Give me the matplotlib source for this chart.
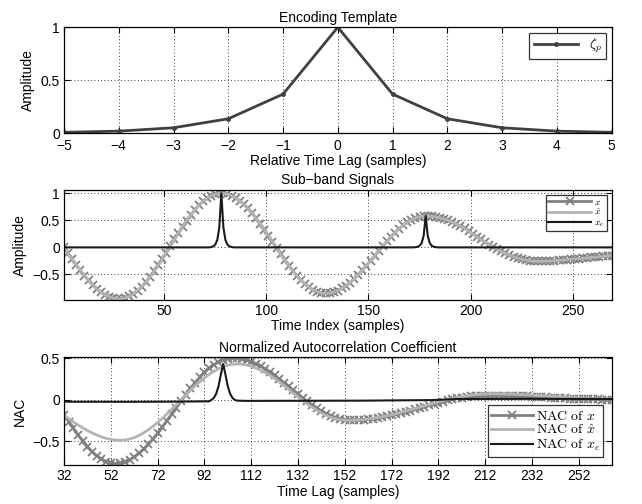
#Sub-band signal / encoding template / NAC figure, rebuilt in matplotlib
import numpy as np
import matplotlib.pyplot as plt

plt.rcParams['font.family'] = ['Liberation Sans', 'DejaVu Sans']
plt.rcParams['mathtext.fontset'] = 'cm'
plt.rcParams['axes.unicode_minus'] = True

#  Encoding template zeta_p
template_lag = [-5, -4, -3, -2, -1, 0, 1, 2, 3, 4, 5]
template_val = [0.007, 0.018, 0.05, 0.135, 0.368, 1.0, 0.368, 0.135, 0.05, 0.018, 0.007]

#  Sub-band signal x, read every 2 samples from t=1 to t=269
sig_t = np.arange(1, 270, 2)
sig_x = [0.000, -0.110, -0.219, -0.325, -0.426, -0.522, -0.611, -0.691, -0.762, -0.823,
         -0.872, -0.910, -0.936, -0.948, -0.948, -0.933, -0.902, -0.857, -0.798, -0.726,
         -0.642, -0.548, -0.445, -0.334, -0.217, -0.097, 0.025, 0.147, 0.267, 0.384,
         0.495, 0.598, 0.692, 0.776, 0.848, 0.907, 0.952, 0.983, 0.998, 0.998,
         0.984, 0.956, 0.915, 0.861, 0.796, 0.719, 0.632, 0.538, 0.436, 0.328,
         0.217, 0.103, -0.010, -0.123, -0.232, -0.337, -0.436, -0.527, -0.609, -0.680,
         -0.740, -0.788, -0.822, -0.843, -0.850, -0.844, -0.827, -0.798, -0.758, -0.708,
         -0.649, -0.581, -0.506, -0.424, -0.338, -0.249, -0.158, -0.066, 0.024, 0.112,
         0.196, 0.274, 0.346, 0.410, 0.464, 0.509, 0.544, 0.567, 0.579, 0.579,
         0.574, 0.563, 0.546, 0.524, 0.498, 0.467, 0.432, 0.393, 0.351, 0.300,
         0.250, 0.198, 0.148, 0.098, 0.050, 0.005, -0.036, -0.074, -0.110, -0.143,
         -0.172, -0.198, -0.219, -0.236, -0.248, -0.255, -0.258, -0.258, -0.256, -0.252,
         -0.247, -0.241, -0.235, -0.228, -0.221, -0.214, -0.207, -0.200, -0.193, -0.186,
         -0.179, -0.172, -0.165, -0.158, -0.151]
#  reconstruction x_hat sits on top of x at this scale
sig_xhat = sig_x

#  x_e : spikes coded with the template
spike_pos = [78, 178]
spike_amp = [1.0, 0.58]
n_samples = 269

#  NAC curves
nac_lag = np.arange(32, 267, 2)
nac_x = [-0.180, -0.264, -0.346, -0.425, -0.499, -0.566, -0.626, -0.676, -0.717, -0.746,
         -0.764, -0.770, -0.765, -0.750, -0.725, -0.691, -0.649, -0.598, -0.540, -0.475,
         -0.405, -0.331, -0.254, -0.175, -0.095, -0.016, 0.061, 0.135, 0.205, 0.270,
         0.328, 0.379, 0.421, 0.455, 0.480, 0.495, 0.500, 0.497, 0.489, 0.475,
         0.455, 0.431, 0.402, 0.369, 0.332, 0.292, 0.250, 0.205, 0.160, 0.113,
         0.067, 0.022, -0.021, -0.063, -0.101, -0.136, -0.167, -0.194, -0.216, -0.232,
         -0.244, -0.249, -0.250, -0.248, -0.245, -0.239, -0.233, -0.224, -0.214, -0.203,
         -0.191, -0.177, -0.163, -0.148, -0.132, -0.116, -0.100, -0.084, -0.068, -0.052,
         -0.037, -0.023, -0.009, 0.003, 0.014, 0.024, 0.033, 0.039, 0.045, 0.048,
         0.050, 0.050, 0.050, 0.049, 0.048, 0.047, 0.045, 0.043, 0.041, 0.038,
         0.036, 0.033, 0.030, 0.027, 0.024, 0.021, 0.018, 0.016, 0.013, 0.010,
         0.008, 0.006, 0.004, 0.003, 0.002, 0.001, 0.000, 0.000]

nac_lag_hat = np.arange(32, 267, 3)
nac_xhat = [-0.190, -0.249, -0.305, -0.357, -0.402, -0.439, -0.467, -0.484, -0.490,
            -0.482, -0.458, -0.418, -0.365, -0.300, -0.226, -0.144, -0.059, 0.028, 0.112,
            0.192, 0.263, 0.324, 0.373, 0.408, 0.426,
            0.429, 0.418, 0.393, 0.357, 0.310, 0.253, 0.191, 0.124, 0.056, -0.011,
            -0.073, -0.130, -0.177, -0.213, -0.238, -0.249,
            -0.249, -0.245, -0.237, -0.226, -0.211, -0.194, -0.175, -0.153, -0.130, -0.106,
            -0.082, -0.058, -0.034, -0.012, 0.008, 0.026, 0.041, 0.054, 0.063, 0.068,
            0.070, 0.069, 0.068, 0.066, 0.062, 0.058, 0.053, 0.048, 0.043, 0.037,
            0.032, 0.027, 0.022, 0.018, 0.014, 0.012, 0.011, 0.010]

nac_lag_e = [32, 60, 80, 94, 95, 96, 97, 98, 99, 100, 101, 102, 103, 104, 105, 106,
             110, 160, 190, 200, 230, 266]
nac_xe = [-0.025, -0.026, -0.024, -0.020, -0.003, 0.020, 0.070, 0.160, 0.300, 0.430,
          0.300, 0.160, 0.070, 0.020, -0.003, -0.012, -0.015, -0.012, -0.005, 0.008,
          0.010, 0.008]

c_dark = '#404040'
c_mid = '#808080'
c_light = '#b4b4b4'
c_black = '#1a1a1a'

#build x_e by placing the template at each spike
xe_t = np.arange(1, n_samples + 1)
sig_xe = np.zeros(n_samples)
for pos, amp in zip(spike_pos, spike_amp):
    for lag, val in zip(template_lag, template_val):
        sig_xe[pos - 1 + lag] += amp * val

fig = plt.figure(figsize=(6.42, 5.04), dpi=100)
ax1 = fig.add_axes([0.0997, 0.736, 0.853, 0.210])
ax2 = fig.add_axes([0.0997, 0.405, 0.853, 0.218])
ax3 = fig.add_axes([0.0997, 0.077, 0.853, 0.214])


def matlab_style(ax):
    ax.grid(True, linestyle=(0, (1, 3)), color='k', linewidth=0.6)
    ax.tick_params(direction='in', top=True, right=True, labelsize=10,
                   length=4, width=0.8, pad=3)
    for sp in ax.spines.values():
        sp.set_linewidth(0.9)


def legend_box(leg):
    fr = leg.get_frame()
    fr.set_edgecolor('k')
    fr.set_linewidth(0.9)
    fr.set_boxstyle('square', pad=0)


#  top panel
ax1.plot(template_lag, template_val, color=c_dark, lw=2, marker='.', ms=5,
         label=r'$\zeta_p$')
ax1.set_xlim(-5, 5)
ax1.set_ylim(0, 1)
ax1.set_xticks(range(-5, 6))
ax1.set_yticks([0, 0.5, 1])
ax1.set_yticklabels(['0', '0.5', '1'])
ax1.set_title('Encoding Template', fontsize=10, pad=4)
ax1.set_xlabel('Relative Time Lag (samples)', fontsize=10, labelpad=1)
ax1.set_ylabel('Amplitude', fontsize=10)
matlab_style(ax1)
ax1.tick_params(axis='x', pad=4)
leg = ax1.legend(loc='upper right', fontsize=10, fancybox=False, handlelength=3.2,
                 borderpad=0.3, borderaxespad=0.4)
legend_box(leg)

#  middle panel
ax2.plot(sig_t, sig_x, color=c_mid, lw=2, marker='x', ms=5.5, mew=1.3, label=r'$x$')
ax2.plot(sig_t, sig_xhat, color=c_light, lw=2, label=r'$\hat{x}$')
ax2.plot(xe_t, sig_xe, color=c_black, lw=1.5, label=r'$x_e$')
ax2.set_xlim(1, 269)
ax2.set_ylim(-0.97, 1.06)
ax2.set_xticks([50, 100, 150, 200, 250])
ax2.set_yticks([-0.5, 0, 0.5, 1])
ax2.set_yticklabels(['\u22120.5', '0', '0.5', '1'])
ax2.set_title('Sub\u2212band Signals', fontsize=10, pad=4)
ax2.set_xlabel('Time Index (samples)', fontsize=10, labelpad=1)
ax2.set_ylabel('Amplitude', fontsize=10)
matlab_style(ax2)
leg = ax2.legend(loc='upper right', fontsize=7, fancybox=False, handlelength=4.5,
                 borderpad=0.2, labelspacing=0.0, handletextpad=0.3,
                 borderaxespad=0.5)
legend_box(leg)

#  bottom panel
ax3.plot(nac_lag, nac_x, color=c_mid, lw=2, marker='x', ms=5.5, mew=1.3,
         label=r'$\mathrm{NAC\ of\ }x$')
ax3.plot(nac_lag_hat, nac_xhat, color=c_light, lw=2, label=r'$\mathrm{NAC\ of\ }\hat{x}$')
ax3.plot(nac_lag_e, nac_xe, color=c_black, lw=1.5, label=r'$\mathrm{NAC\ of\ }x_e$')
ax3.set_xlim(32, 266)
ax3.set_ylim(-0.79, 0.51)
ax3.set_xticks(range(32, 253, 20))
ax3.set_yticks([-0.5, 0, 0.5])
ax3.set_yticklabels(['\u22120.5', '0', '0.5'])
ax3.set_title('Normalized Autocorrelation Coefficient', fontsize=10, pad=4)
ax3.set_xlabel('Time Lag (samples)', fontsize=10, labelpad=1)
ax3.set_ylabel('NAC', fontsize=10)
matlab_style(ax3)
leg = ax3.legend(loc='lower right', fontsize=10, fancybox=False, handlelength=3.0,
                 borderpad=0.25, labelspacing=0.05, handletextpad=0.2,
                 borderaxespad=0.6)
legend_box(leg)

fig.savefig('out.png', dpi=100)
